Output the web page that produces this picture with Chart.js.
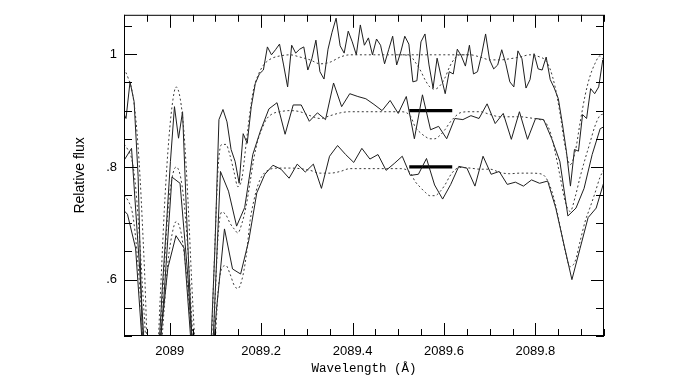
<!DOCTYPE html>
<html>
<head>
<meta charset="utf-8">
<script src="https://cdn.jsdelivr.net/npm/chart.js@4.4.0/dist/chart.umd.min.js"></script>
<style>
  html, body { margin: 0; padding: 0; background: #fff; }
</style>
</head>
<body>
<canvas id="grafico" width="685" height="375"></canvas>
<script>
// Espectro superior (continuo en 1.0)
const topWave = [
  2088.8956, 2088.9044, 2088.9132, 2088.9221, 2088.9309, 2088.9397, 2088.9486, 2088.9574, 2088.9663, 2088.9751,
  2088.9839, 2088.9928, 2089.0016, 2089.0104, 2089.0193, 2089.0281, 2089.0370, 2089.0458, 2089.0546, 2089.0635,
  2089.0723, 2089.0812, 2089.0900, 2089.0988, 2089.1077, 2089.1165, 2089.1253, 2089.1342, 2089.1430, 2089.1519,
  2089.1607, 2089.1695, 2089.1784, 2089.1872, 2089.1960, 2089.2049, 2089.2137, 2089.2226, 2089.2314, 2089.2402,
  2089.2491, 2089.2579, 2089.2668, 2089.2756, 2089.2844, 2089.2933, 2089.3021, 2089.3109, 2089.3198, 2089.3286,
  2089.3375, 2089.3463, 2089.3551, 2089.3640, 2089.3728, 2089.3816, 2089.3905, 2089.3993, 2089.4082, 2089.4170,
  2089.4258, 2089.4347, 2089.4435, 2089.4524, 2089.4612, 2089.4700, 2089.4789, 2089.4877, 2089.4965, 2089.5054,
  2089.5142, 2089.5231, 2089.5319, 2089.5407, 2089.5496, 2089.5584, 2089.5672, 2089.5761, 2089.5849, 2089.5938,
  2089.6026, 2089.6114, 2089.6203, 2089.6291, 2089.6379, 2089.6468, 2089.6556, 2089.6645, 2089.6733, 2089.6821,
  2089.6910, 2089.6998, 2089.7087, 2089.7175, 2089.7263, 2089.7352, 2089.7440, 2089.7528, 2089.7617, 2089.7705,
  2089.7794, 2089.7882, 2089.7970, 2089.8059, 2089.8147, 2089.8235, 2089.8324, 2089.8412, 2089.8501, 2089.8589,
  2089.8677, 2089.8766, 2089.8854, 2089.8942, 2089.9031, 2089.9119, 2089.9208, 2089.9296, 2089.9384, 2089.9473,
  2089.9561
];
const topFlux = [
  0.902, 0.886, 0.951, 0.916, 0.783, 0.509, 0.38, 0.33, 0.36, 0.46,
  0.586, 0.697, 0.810, 0.907, 0.851, 0.898, 0.712, 0.545, 0.40, 0.33,
  0.33, 0.40, 0.48, 0.654, 0.884, 0.902, 0.880, 0.831, 0.810, 0.771,
  0.859, 0.842, 0.907, 0.948, 0.965, 0.972, 1.013, 0.999, 1.008, 1.018,
  0.981, 0.942, 1.016, 1.002, 1.009, 1.013, 0.972, 0.992, 1.025, 0.969,
  0.956, 1.009, 1.039, 1.064, 1.015, 1.002, 1.041, 1.022, 0.999, 1.052,
  1.016, 1.029, 0.999, 1.027, 1.016, 0.983, 1.008, 1.032, 0.981, 1.004,
  1.032, 1.018, 0.951, 0.953, 1.022, 1.036, 0.981, 0.940, 0.993, 0.960,
  0.930, 0.969, 0.965, 1.009, 0.997, 0.979, 1.016, 0.965, 0.969, 0.999,
  1.036, 0.990, 0.974, 0.981, 1.008, 0.983, 0.951, 0.942, 1.006, 0.992,
  0.940, 0.955, 1.001, 0.974, 0.972, 0.995, 0.955, 0.940, 0.921, 0.877,
  0.828, 0.766, 0.831, 0.828, 0.893, 0.886, 0.939, 0.930, 0.942, 0.990,
  0.969
];

// Espectro central (continuo en 0.9)
const midWave = [
  2088.8988, 2088.9165, 2088.9342, 2088.9519, 2088.9695, 2088.9872, 2089.0049, 2089.0226, 2089.0403, 2089.0579,
  2089.0756, 2089.0933, 2089.1110, 2089.1286, 2089.1463, 2089.1640, 2089.1817, 2089.1993, 2089.2170, 2089.2347,
  2089.2524, 2089.2701, 2089.2877, 2089.3054, 2089.3231, 2089.3408, 2089.3584, 2089.3761, 2089.3938, 2089.4115,
  2089.4291, 2089.4468, 2089.4645, 2089.4822, 2089.4999, 2089.5175, 2089.5352, 2089.5529, 2089.5706, 2089.5882,
  2089.6059, 2089.6236, 2089.6413, 2089.6589, 2089.6766, 2089.6943, 2089.7120, 2089.7296, 2089.7473, 2089.7650,
  2089.7827, 2089.8003, 2089.8180, 2089.8357, 2089.8534, 2089.8710, 2089.8887, 2089.9064, 2089.9241, 2089.9417,
  2089.9594
];
const midFlux = [
  0.810, 0.833, 0.620, 0.38, 0.38, 0.568, 0.782, 0.771, 0.600, 0.36,
  0.36, 0.46, 0.792, 0.757, 0.695, 0.728, 0.822, 0.866, 0.903, 0.914,
  0.858, 0.910, 0.910, 0.881, 0.896, 0.884, 0.949, 0.907, 0.930, 0.925,
  0.921, 0.911, 0.900, 0.918, 0.895, 0.925, 0.850, 0.928, 0.866, 0.872,
  0.850, 0.886, 0.884, 0.891, 0.886, 0.912, 0.877, 0.895, 0.849, 0.898,
  0.849, 0.886, 0.884, 0.850, 0.810, 0.713, 0.727, 0.762, 0.822, 0.868,
  0.875
];

// Espectro inferior (continuo en 0.8)
const lowWave = [
  2088.8900, 2088.9076, 2088.9253, 2088.9430, 2088.9607, 2088.9783, 2088.9960, 2089.0137, 2089.0314, 2089.0491,
  2089.0667, 2089.0844, 2089.1021, 2089.1198, 2089.1374, 2089.1551, 2089.1728, 2089.1905, 2089.2081, 2089.2258,
  2089.2435, 2089.2612, 2089.2789, 2089.2965, 2089.3142, 2089.3319, 2089.3496, 2089.3672, 2089.3849, 2089.4026,
  2089.4203, 2089.4379, 2089.4556, 2089.4733, 2089.4910, 2089.5087, 2089.5263, 2089.5440, 2089.5617, 2089.5794,
  2089.5970, 2089.6147, 2089.6324, 2089.6501, 2089.6677, 2089.6854, 2089.7031, 2089.7208, 2089.7384, 2089.7561,
  2089.7738, 2089.7915, 2089.8091, 2089.8268, 2089.8445, 2089.8622, 2089.8798, 2089.8975, 2089.9152, 2089.9329,
  2089.9505, 2089.9682
];
const lowFlux = [
  0.731, 0.716, 0.656, 0.45, 0.36, 0.484, 0.621, 0.678, 0.656, 0.46,
  0.36, 0.36, 0.545, 0.690, 0.619, 0.610, 0.669, 0.754, 0.787, 0.803,
  0.796, 0.780, 0.805, 0.791, 0.805, 0.762, 0.819, 0.838, 0.822, 0.808,
  0.833, 0.814, 0.822, 0.794, 0.806, 0.819, 0.785, 0.787, 0.815, 0.768,
  0.743, 0.769, 0.801, 0.798, 0.766, 0.819, 0.787, 0.792, 0.769, 0.773,
  0.766, 0.777, 0.771, 0.775, 0.727, 0.663, 0.600, 0.655, 0.710, 0.727,
  0.775, 0.801
];

// Modelos (linea punteada)
const modelWave = [
  2088.900, 2088.909, 2088.918, 2088.926, 2088.935, 2088.944, 2088.957, 2088.970, 2088.979, 2088.988,
  2088.996, 2089.005, 2089.014, 2089.023, 2089.031, 2089.040, 2089.049, 2089.062, 2089.075, 2089.088,
  2089.097, 2089.106, 2089.114, 2089.123, 2089.132, 2089.141, 2089.149, 2089.158, 2089.167, 2089.176,
  2089.184, 2089.193, 2089.202, 2089.211, 2089.224, 2089.241, 2089.263, 2089.285, 2089.307, 2089.329,
  2089.351, 2089.373, 2089.394, 2089.416, 2089.460, 2089.504, 2089.526, 2089.537, 2089.548, 2089.559,
  2089.569, 2089.580, 2089.591, 2089.602, 2089.613, 2089.624, 2089.635, 2089.657, 2089.679, 2089.701,
  2089.723, 2089.744, 2089.766, 2089.788, 2089.810, 2089.821, 2089.832, 2089.843, 2089.854, 2089.865,
  2089.876, 2089.887, 2089.898, 2089.909, 2089.919, 2089.930, 2089.941, 2089.950
];
const modelTop = [
  0.975, 0.958, 0.933, 0.884, 0.783, 0.633, 0.40, 0.42, 0.563, 0.721,
  0.827, 0.907, 0.942, 0.921, 0.863, 0.740, 0.581, 0.40, 0.33, 0.42,
  0.62, 0.80, 0.84, 0.84, 0.82, 0.79, 0.765, 0.78, 0.84, 0.90,
  0.94, 0.962, 0.977, 0.986, 0.993, 0.997, 0.999, 0.995, 0.990, 0.983,
  0.986, 0.995, 0.999, 0.999, 0.999, 0.999, 0.997, 0.986, 0.972, 0.954,
  0.942, 0.938, 0.944, 0.958, 0.979, 0.993, 0.999, 0.999, 0.995, 0.990,
  0.990, 0.992, 0.995, 0.999, 0.995, 0.990, 0.974, 0.942, 0.894, 0.836,
  0.804, 0.827, 0.880, 0.928, 0.960, 0.983, 0.997, 0.990
];
const modelMid = [
  0.84, 0.83, 0.81, 0.76, 0.66, 0.54, 0.40, 0.40, 0.50, 0.62,
  0.72, 0.78, 0.80, 0.785, 0.74, 0.65, 0.52, 0.38, 0.33, 0.36,
  0.52, 0.68, 0.72, 0.715, 0.70, 0.69, 0.683, 0.70, 0.73, 0.774,
  0.815, 0.848, 0.868, 0.884, 0.894, 0.898, 0.900, 0.898, 0.891, 0.886,
  0.891, 0.896, 0.898, 0.898, 0.898, 0.898, 0.891, 0.871, 0.861, 0.854,
  0.850, 0.850, 0.856, 0.866, 0.879, 0.889, 0.896, 0.898, 0.898, 0.893,
  0.889, 0.889, 0.889, 0.887, 0.884, 0.880, 0.863, 0.827, 0.783, 0.739,
  0.721, 0.747, 0.783, 0.815, 0.842, 0.872, 0.891, 0.894
];
const modelLow = [
  0.75, 0.74, 0.72, 0.67, 0.58, 0.47, 0.36, 0.38, 0.45, 0.55,
  0.63, 0.68, 0.703, 0.69, 0.65, 0.58, 0.48, 0.36, 0.32, 0.33,
  0.45, 0.58, 0.62, 0.625, 0.61, 0.59, 0.584, 0.60, 0.64, 0.705,
  0.740, 0.768, 0.784, 0.792, 0.797, 0.798, 0.798, 0.797, 0.794, 0.789,
  0.789, 0.792, 0.797, 0.797, 0.797, 0.797, 0.790, 0.774, 0.764, 0.755,
  0.749, 0.749, 0.756, 0.768, 0.784, 0.795, 0.799, 0.798, 0.796, 0.796,
  0.790, 0.788, 0.789, 0.789, 0.788, 0.783, 0.766, 0.736, 0.695, 0.651,
  0.623, 0.633, 0.669, 0.704, 0.727, 0.753, 0.781, 0.796
];
// modelo superior sin la componente de 2089.57
const plainWave = [2089.500, 2089.660];
const plainTop = [0.999, 0.999];

// barras gruesas
const barWave = [2089.524, 2089.618];
const barLevels = [0.9, 0.8];

// ticks
const xTicks = [2089, 2089.2, 2089.4, 2089.6, 2089.8];
const yTicks = [0.6, 0.8, 1];
const yTickLabels = ['.6', '.8', '1'];

const pairs = (xs, ys) => xs.map((x, i) => ({ x: x, y: ys[i] }));

const solid = (xs, ys) => ({
  data: pairs(xs, ys),
  borderColor: '#1e1e1e',
  borderWidth: 1,
  pointRadius: 0,
  tension: 0,
  clip: 0
});
const dotted = (xs, ys) => ({
  data: pairs(xs, ys),
  borderColor: '#3a3a3a',
  borderWidth: 1,
  borderDash: [2, 2.5],
  pointRadius: 0,
  cubicInterpolationMode: 'monotone',
  clip: 0
});

const datasets = [
  dotted(modelWave, modelTop),
  dotted(modelWave, modelMid),
  dotted(modelWave, modelLow),
  dotted(plainWave, plainTop),
  solid(topWave, topFlux),
  solid(midWave, midFlux),
  solid(lowWave, lowFlux)
];
barLevels.forEach(level => {
  datasets.push({
    data: barWave.map(w => ({ x: w, y: level })),
    borderColor: '#000',
    borderWidth: 3.2,
    borderCapStyle: 'butt',
    pointRadius: 0,
    clip: 0
  });
});

// marco y ticks hacia adentro en los cuatro lados
const frameTicks = {
  id: 'frameTicks',
  afterDatasetsDraw(chart) {
    const { ctx, chartArea: a, scales: { x, y } } = chart;
    ctx.save();
    ctx.strokeStyle = '#000';
    ctx.lineWidth = 1;
    ctx.beginPath();
    for (let i = Math.ceil(x.min / 0.05); i * 0.05 <= x.max + 1e-9; i++) {
      const len = i % 4 === 0 ? 13 : 7;
      const px = Math.round(x.getPixelForValue(i * 0.05)) + 0.5;
      ctx.moveTo(px, a.bottom); ctx.lineTo(px, a.bottom - len);
      ctx.moveTo(px, a.top); ctx.lineTo(px, a.top + len);
    }
    for (let i = Math.ceil(y.min / 0.05); i * 0.05 <= y.max + 1e-9; i++) {
      const len = i % 4 === 0 ? 13 : 8;
      const py = Math.round(y.getPixelForValue(i * 0.05)) + 0.5;
      ctx.moveTo(a.left, py); ctx.lineTo(a.left + len, py);
      ctx.moveTo(a.right, py); ctx.lineTo(a.right - len, py);
    }
    ctx.stroke();
    ctx.strokeRect(a.left + 0.5, a.top + 0.5, a.right - a.left - 1, a.bottom - a.top - 1);
    ctx.restore();
  }
};

const canvas = document.getElementById('grafico');
const ctx = canvas.getContext('2d');
const chart = new Chart(ctx, {
  type: 'line',
  data: { datasets: datasets },
  options: {
    responsive: false,
    animation: false,
    devicePixelRatio: 1,
    layout: { padding: { top: 12, right: 81, left: 0, bottom: 0 } },
    plugins: { legend: { display: false }, tooltip: { enabled: false } },
    scales: {
      x: {
        type: 'linear',
        min: 2088.9,
        max: 2089.95,
        afterBuildTicks: s => { s.ticks = xTicks.map(v => ({ value: v })); },
        afterFit: s => { s.height = 39; },
        grid: { display: false, drawTicks: false },
        border: { display: false },
        ticks: {
          padding: 8,
          color: '#000',
          maxRotation: 0,
          autoSkip: false,
          font: { family: '"Liberation Sans", Arial, sans-serif', size: 13 },
          callback: v => String(v)
        },
        title: {
          display: true,
          text: 'Wavelength (Å)',
          color: '#000',
          font: { family: '"Liberation Mono", monospace', size: 12.5, lineHeight: 1 },
          padding: { top: 0, bottom: 0 }
        }
      },
      y: {
        type: 'linear',
        min: 0.5,
        max: 1.07,
        afterBuildTicks: s => { s.ticks = yTicks.map(v => ({ value: v })); },
        afterFit: s => { s.width = 124; },
        grid: { display: false, drawTicks: false },
        border: { display: false },
        ticks: {
          padding: 7,
          color: '#000',
          font: { family: '"Liberation Sans", Arial, sans-serif', size: 13 },
          callback: v => yTickLabels[yTicks.indexOf(v)]
        },
        title: {
          display: true,
          text: 'Relative flux',
          color: '#000',
          font: { family: '"Liberation Sans", Arial, sans-serif', size: 14 },
          padding: { top: 72, bottom: 0 }
        }
      }
    }
  },
  plugins: [frameTicks]
});
</script>
</body>
</html>
